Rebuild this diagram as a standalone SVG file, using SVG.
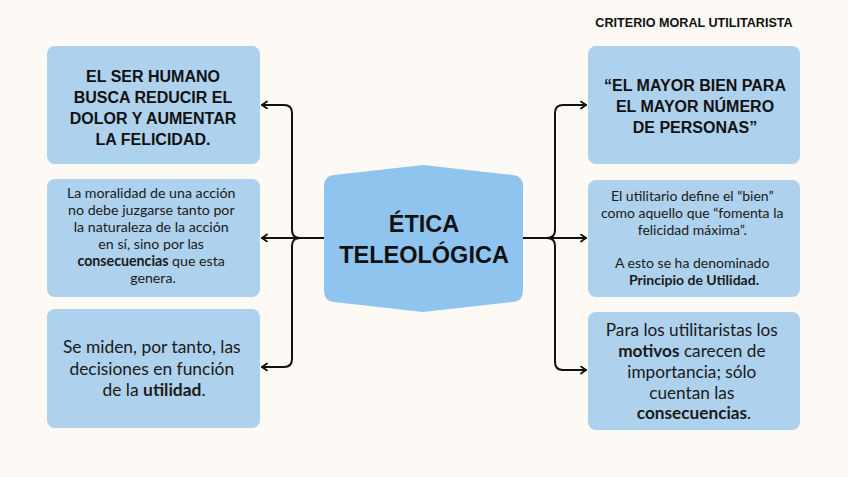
<svg xmlns="http://www.w3.org/2000/svg" width="848" height="477" viewBox="0 0 848 477">
<defs>
<style>
.box{fill:#aed1ed;}
.ctr{fill:#8fc4ef;}
.hd{font-family:"Liberation Sans",Arial,sans-serif;font-weight:bold;fill:#111;text-anchor:middle;}
.bd{font-family:Lato,"Open Sans",sans-serif;fill:#1a1a1a;text-anchor:middle;}
.b{font-weight:bold;}
.con{fill:none;stroke:#111;stroke-width:2;stroke-linecap:round;stroke-linejoin:round;}
</style>
<marker id="ah" markerUnits="userSpaceOnUse" markerWidth="10" markerHeight="10" refX="6" refY="4" orient="auto">
<path d="M1,0.5 L6,4 L1,7.5" fill="none" stroke="#111" stroke-width="1.8" stroke-linecap="round" stroke-linejoin="round"/>
</marker>
</defs>
<rect width="848" height="477" fill="#fdf9f4"/>
<text class="hd" x="694" y="27" font-size="12.6">CRITERIO MORAL UTILITARISTA</text>

<g id="connectors">
<path class="con" d="M324,238 L262,238" marker-end="url(#ah)"/>
<path class="con" d="M300,238 Q292,238 292,230 L292,113 Q292,105 284,105 L262,105" marker-end="url(#ah)"/>
<path class="con" d="M300,238 Q292,238 292,246 L292,359 Q292,367 284,367 L262,367" marker-end="url(#ah)"/>
<path class="con" d="M523,238 L586,238" marker-end="url(#ah)"/>
<path class="con" d="M547,238 Q555,238 555,230 L555,113 Q555,105 563,105 L586,105" marker-end="url(#ah)"/>
<path class="con" d="M547,238 Q555,238 555,246 L555,362 Q555,370 563,370 L586,370" marker-end="url(#ah)"/>
</g>

<g id="center">
<path class="ctr" d="M324,186 Q324,176 334,175 L423,165 L513,175 Q523,176 523,186 L523,291 Q523,301 513,302 L423,312 L334,302 Q324,301 324,291 Z"/>
<text class="hd" x="424" y="232" font-size="23.5">ÉTICA</text>
<text class="hd" x="424" y="263" font-size="23.5">TELEOLÓGICA</text>
</g>

<g id="left1">
<rect class="box" x="47" y="46" width="213" height="118" rx="8"/>
<text class="hd" x="153" y="82" font-size="16">EL SER HUMANO</text>
<text class="hd" x="153" y="103" font-size="16">BUSCA REDUCIR EL</text>
<text class="hd" x="153" y="124" font-size="16">DOLOR Y AUMENTAR</text>
<text class="hd" x="153" y="145" font-size="16">LA FELICIDAD.</text>
</g>

<g id="left2">
<rect class="box" x="47" y="179" width="213" height="118" rx="8"/>
<text class="bd" font-size="14.2">
<tspan x="153" y="198">La moralidad de una acción</tspan>
<tspan x="153" y="215">no debe juzgarse tanto por</tspan>
<tspan x="153" y="232">la naturaleza de la acción</tspan>
<tspan x="153" y="249">en sí, sino por las</tspan>
<tspan x="153" y="266"><tspan class="b">consecuencias</tspan> que esta</tspan>
<tspan x="153" y="283">genera.</tspan>
</text>
</g>

<g id="left3">
<rect class="box" x="47" y="309" width="213" height="119" rx="8"/>
<text class="bd" font-size="17.4">
<tspan x="154" y="353">Se miden, por tanto, las</tspan>
<tspan x="154" y="375">decisiones en función</tspan>
<tspan x="154" y="396">de la <tspan class="b">utilidad</tspan>.</tspan>
</text>
</g>

<g id="right1">
<rect class="box" x="588" y="46" width="212" height="118" rx="8"/>
<text class="hd" x="695" y="91" font-size="16">“EL MAYOR BIEN PARA</text>
<text class="hd" x="695" y="112" font-size="16">EL MAYOR NÚMERO</text>
<text class="hd" x="695" y="133" font-size="16">DE PERSONAS”</text>
</g>

<g id="right2">
<rect class="box" x="588" y="180" width="212" height="117" rx="8"/>
<text class="bd" font-size="14">
<tspan x="694" y="201">El utilitario define el “bien”</tspan>
<tspan x="694" y="218">como aquello que “fomenta la</tspan>
<tspan x="694" y="235">felicidad máxima”.</tspan>
<tspan x="694" y="268">A esto se ha denominado</tspan>
<tspan x="694" y="285" class="b">Principio de Utilidad.</tspan>
</text>
</g>

<g id="right3">
<rect class="box" x="588" y="312" width="212" height="118" rx="8"/>
<text class="bd" font-size="17.2">
<tspan x="694" y="336">Para los utilitaristas los</tspan>
<tspan x="694" y="357"><tspan class="b">motivos</tspan> carecen de</tspan>
<tspan x="694" y="378">importancia; sólo</tspan>
<tspan x="694" y="398.5">cuentan las</tspan>
<tspan x="694" y="419"><tspan class="b">consecuencias</tspan>.</tspan>
</text>
</g>
</svg>
